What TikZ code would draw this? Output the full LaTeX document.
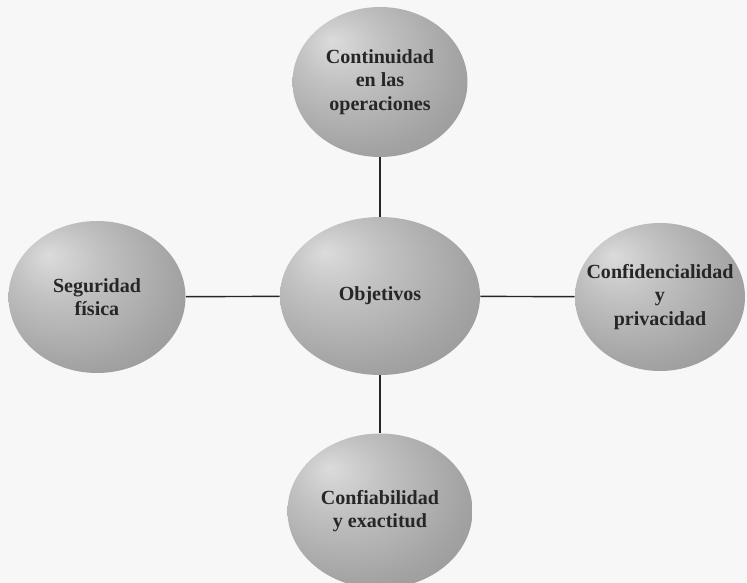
\documentclass[tikz,border=0pt]{standalone}
\usepackage{fontspec}
\setmainfont{Liberation Serif}
\usetikzlibrary{shapes.geometric}

\pgfdeclareradialshading{orbe}{\pgfpoint{-14bp}{14bp}}{%
color(0bp)=(black!14); color(12bp)=(black!24); color(30bp)=(black!36);
color(50bp)=(black!46); color(62bp)=(black!54)}

\begin{document}
\begin{tikzpicture}[
obj/.style={ellipse, shading=orbe, inner sep=0pt, align=center,
  font=\fontsize{11.4}{13.2}\selectfont\bfseries, text=black!85},
link/.style={line width=0.8pt, draw=black!85} ]

\useasboundingbox[fill=black!3] (0,0) rectangle (14.94,-11.66);

\node[obj, minimum width=4.0cm, minimum height=3.16cm](C) at (7.6,-5.92) {Objetivos};

\node[obj, minimum width=3.5cm, minimum height=3.0cm](N) at (7.6,-1.64) {Continuidad\\en las\\operaciones};

\node[obj, minimum width=3.54cm, minimum height=3.04cm](W) at (1.94,-5.94) {Seguridad\\física};

\node[obj, inner xsep=-10pt, minimum width=3.4cm, minimum height=2.96cm](E) at (13.2,-5.94) {Confidencialidad\\y\\privacidad};

\node[obj, minimum width=3.7cm, minimum height=3.1cm](S) at (7.6,-10.22) {Confiabilidad\\y exactitud};

\draw[link] (N) -- (C);

\draw[link] (W) -- (C);

\draw[link] (C) -- (E);

\draw[link] (C) -- (S);
\end{tikzpicture}
\end{document}
